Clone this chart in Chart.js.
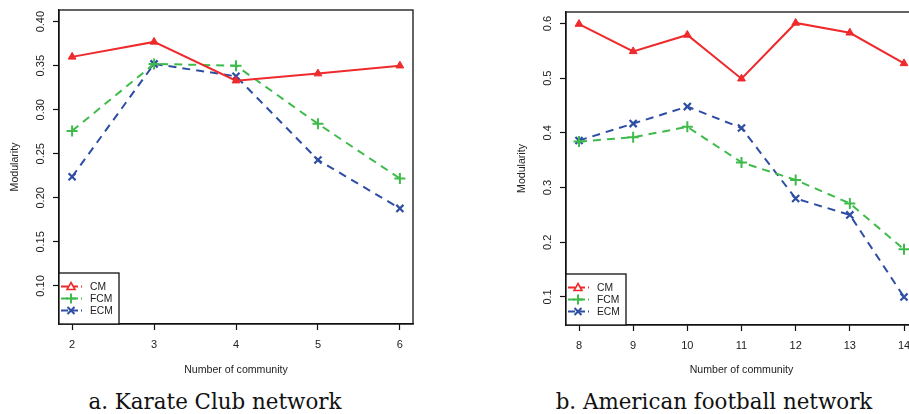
<!DOCTYPE html>
<html>
<head>
<meta charset="utf-8">
<script src="https://cdn.jsdelivr.net/npm/chart.js@4.4.0/dist/chart.umd.min.js"></script>
<style>
  html, body { margin: 0; padding: 0; background: #fff; overflow: hidden; }
  body { width: 909px; height: 414px; position: relative; }
  .panel { position: absolute; top: 0; height: 380px; }
  .caption { position: absolute; top: 389px; font-family: "DejaVu Serif", serif; font-size: 21.4px; color: #111; text-align: center; white-space: nowrap; }
</style>
</head>
<body>
<div class="panel" style="left:0; width:450px;"><canvas id="karate"></canvas></div>
<div class="panel" style="left:455px; width:470px;"><canvas id="football"></canvas></div>
<div class="caption" style="left:0; width:430px;">a. Karate Club network</div>
<div class="caption" style="left:455px; width:518px;">b. American football network</div>
<script>
// karate club
const karateCommunities = [2, 3, 4, 5, 6];
const karateCM = [0.360, 0.377, 0.333, 0.341, 0.350];
const karateFCM = [0.276, 0.352, 0.350, 0.284, 0.222];
const karateECM = [0.224, 0.352, 0.338, 0.243, 0.188];
const karateTicks = [0.10, 0.15, 0.20, 0.25, 0.30, 0.35, 0.40];

// american football
const footballCommunities = [8, 9, 10, 11, 12, 13, 14];
const footballCM = [0.599, 0.549, 0.579, 0.499, 0.601, 0.583, 0.527];
const footballFCM = [0.384, 0.392, 0.411, 0.346, 0.314, 0.271, 0.187];
const footballECM = [0.386, 0.417, 0.448, 0.409, 0.280, 0.250, 0.100];
const footballTicks = [0.1, 0.2, 0.3, 0.4, 0.5, 0.6];

const seriesNames = ["CM", "FCM", "ECM"];
const red = "#ee2a2c";
const green = "#3fbb4b";
const blue = "#2d4ea3";
const sansFont = '"Liberation Sans", Arial, sans-serif';

function points(xs, ys) {
  return xs.map((x, i) => ({ x: x, y: ys[i] }));
}

// box, rotated y labels and R style legend
const rStyle = {
  id: "rStyle",
  afterDraw(chart, args, pluginOpts) {
    const ctx = chart.ctx;
    const area = chart.chartArea;
    const yScale = chart.scales.y;
    ctx.save();
    ctx.strokeStyle = "#111";
    ctx.lineWidth = 1.3;
    ctx.strokeRect(area.left, area.top, area.right - area.left, area.bottom - area.top);

    ctx.fillStyle = "#222";
    ctx.font = "11px " + sansFont;
    ctx.textAlign = "center";
    ctx.textBaseline = "bottom";
    yScale.ticks.forEach(t => {
      const y = yScale.getPixelForValue(t.value);
      ctx.save();
      ctx.translate(area.left - 13, y);
      ctx.rotate(-Math.PI / 2);
      ctx.fillText(t.value.toFixed(pluginOpts.decimals), 0, 0);
      ctx.restore();
    });

    ctx.save();
    ctx.translate(area.left - 44, (area.top + area.bottom) / 2);
    ctx.rotate(-Math.PI / 2);
    ctx.font = "10.6px " + sansFont;
    ctx.textBaseline = "middle";
    ctx.fillText("Modularity", 0, 0);
    ctx.restore();

    // legend
    const lx = area.left, ly = area.bottom - 51;
    ctx.lineWidth = 1.3;
    ctx.strokeStyle = "#111";
    ctx.fillStyle = "#fff";
    ctx.fillRect(lx, ly, 60, 51);
    ctx.strokeRect(lx, ly, 60, 51);
    chart.data.datasets.forEach((ds, i) => {
      const y = ly + 13.5 + i * 12;
      ctx.strokeStyle = ds.borderColor;
      ctx.lineWidth = 2;
      ctx.setLineDash([7, 3]);
      ctx.beginPath();
      ctx.moveTo(lx + 2, y);
      ctx.lineTo(lx + 23, y);
      ctx.stroke();
      ctx.setLineDash([]);
      const mx = lx + 12;
      ctx.beginPath();
      if (i === 0) {
        ctx.lineWidth = 1.6;
        ctx.moveTo(mx, y - 4);
        ctx.lineTo(mx + 4, y + 3);
        ctx.lineTo(mx - 4, y + 3);
        ctx.closePath();
        ctx.fillStyle = "#fff";
        ctx.fill();
      } else if (i === 1) {
        ctx.moveTo(mx - 5, y); ctx.lineTo(mx + 5, y);
        ctx.moveTo(mx, y - 5); ctx.lineTo(mx, y + 5);
      } else {
        ctx.moveTo(mx - 3.5, y - 3.5); ctx.lineTo(mx + 3.5, y + 3.5);
        ctx.moveTo(mx + 3.5, y - 3.5); ctx.lineTo(mx - 3.5, y + 3.5);
      }
      ctx.stroke();
      ctx.fillStyle = "#222";
      ctx.font = "10.3px " + sansFont;
      ctx.textAlign = "left";
      ctx.textBaseline = "middle";
      ctx.fillText(seriesNames[i], lx + 31, y + 0.5);
    });
    ctx.restore();
  }
};

function makeChart(id, cats, cm, fcm, ecm, yTicks, opts) {
  const xPad = (cats[cats.length - 1] - cats[0]) * 0.04;
  return new Chart(document.getElementById(id), {
    type: "line",
    data: {
      datasets: [
        {
          label: seriesNames[0], data: points(cats, cm), borderColor: red, backgroundColor: red,
          borderWidth: 2, pointStyle: "triangle", pointRadius: 4.5, pointBorderWidth: 1
        },
        {
          label: seriesNames[1], data: points(cats, fcm), borderColor: green, backgroundColor: green,
          borderWidth: 2, borderDash: [8, 6], pointStyle: "cross", pointRadius: 5.5, pointBorderWidth: 2
        },
        {
          label: seriesNames[2], data: points(cats, ecm), borderColor: blue, backgroundColor: blue,
          borderWidth: 2, borderDash: [8, 6], pointStyle: "crossRot", pointRadius: 5, pointBorderWidth: 2.2
        }
      ]
    },
    options: {
      responsive: true,
      maintainAspectRatio: false,
      animation: false,
      layout: { padding: { top: opts.top, right: opts.right, left: 0, bottom: 4 } },
      plugins: {
        legend: { display: false },
        tooltip: { enabled: false },
        rStyle: { decimals: opts.decimals }
      },
      scales: {
        x: {
          type: "linear",
          min: cats[0] - xPad,
          max: cats[cats.length - 1] + xPad,
          afterBuildTicks: s => { s.ticks = cats.map(v => ({ value: v })); },
          afterFit: s => { s.height = opts.xHeight; },
          grid: { drawOnChartArea: false, drawTicks: true, tickLength: 6, color: "#111", tickWidth: 1.2 },
          border: { display: true, color: "#111", width: 1.3 },
          ticks: { color: "#222", font: { family: sansFont, size: 11 }, padding: 8, maxRotation: 0 },
          title: { display: true, text: "Number of community", color: "#222", font: { family: sansFont, size: 10.6 }, padding: { top: 8, bottom: 0 } }
        },
        y: {
          min: opts.ymin,
          max: opts.ymax,
          afterBuildTicks: s => { s.ticks = yTicks.map(v => ({ value: v })); },
          afterFit: s => { s.width = opts.yWidth; },
          grid: { drawOnChartArea: false, drawTicks: true, tickLength: 6, color: "#111", tickWidth: 1.2 },
          border: { display: true, color: "#111", width: 1.3 },
          ticks: { display: false }
        }
      }
    },
    plugins: [rStyle]
  });
}

makeChart("karate", karateCommunities, karateCM, karateFCM, karateECM, karateTicks, {
  top: 10, right: 37, xHeight: 52, yWidth: 59, ymin: 0.0568, ymax: 0.4132, decimals: 2
});

makeChart("football", footballCommunities, footballCM, footballFCM, footballECM, footballTicks, {
  top: 12, right: 8, xHeight: 51, yWidth: 111, ymin: 0.0487, ymax: 0.621, decimals: 1
});
</script>
</body>
</html>
